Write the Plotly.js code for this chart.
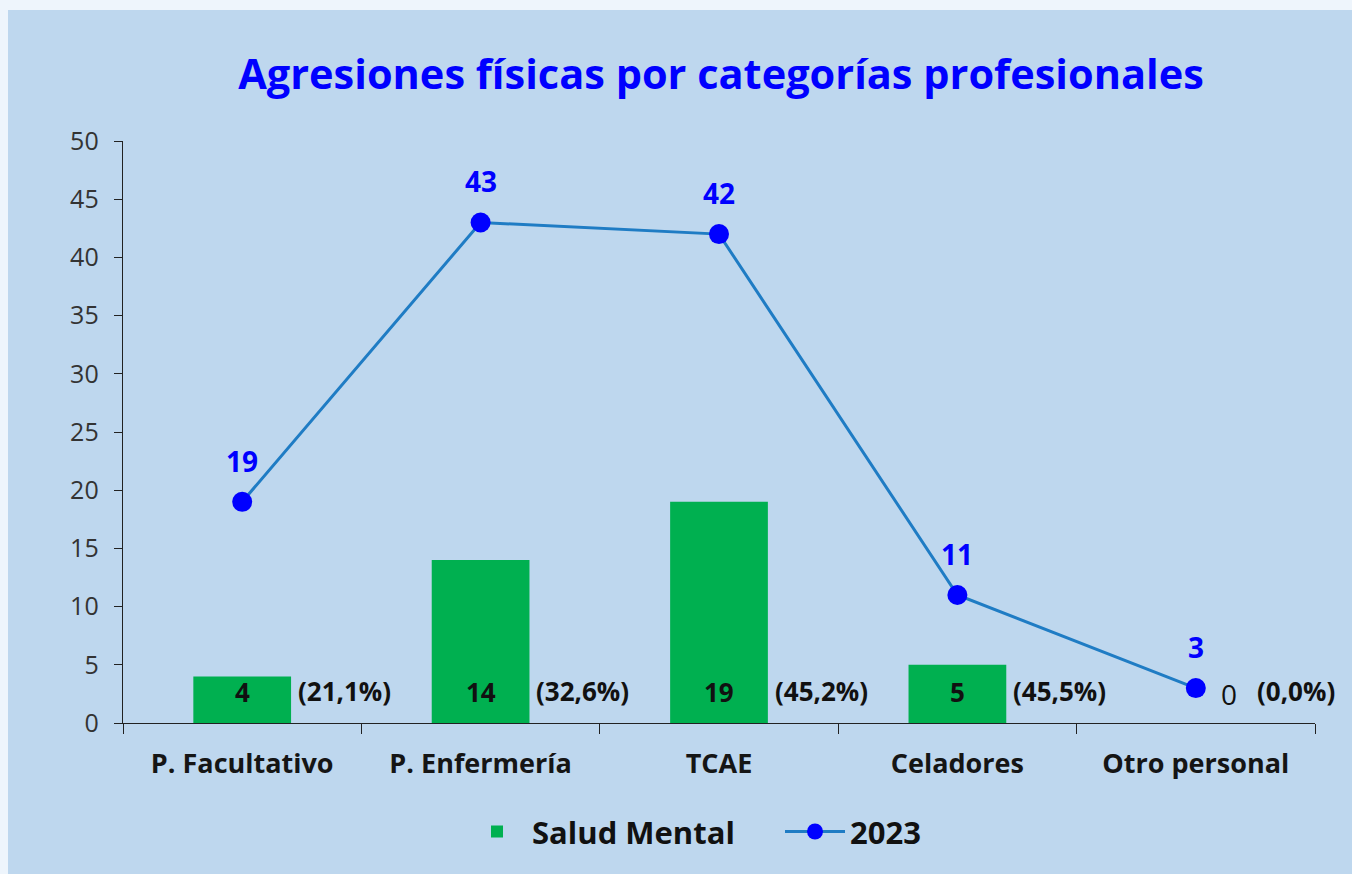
<!DOCTYPE html>
<html>
<head>
<meta charset="utf-8">
<script src="https://cdn.plot.ly/plotly-3.0.1.min.js"></script>
<style>
  html, body { margin: 0; padding: 0; background: #eef5fc; width: 1352px; height: 874px; overflow: hidden; }
  #chart { position: absolute; left: 8px; top: 10px; width: 1344px; height: 864px; }
</style>
</head>
<body>
<div id="chart"></div>
<script>
const categories = ["P. Facultativo", "P. Enfermería", "TCAE", "Celadores", "Otro personal"];
const saludMental = [4, 14, 19, 5, 0];
const total2023 = [19, 43, 42, 11, 3];
const percentLabels = ["(21,1%)", "(32,6%)", "(45,2%)", "(45,5%)", "(0,0%)"];

const FONT = "'Open Sans', sans-serif";

const traces = [
  {
    type: "bar",
    name: "Salud Mental",
    x: categories,
    y: saludMental,
    width: 0.41,
    marker: { color: "#00b050" },
    hoverinfo: "skip"
  },
  {
    type: "scatter",
    mode: "lines+markers",
    name: "2023",
    x: categories,
    y: total2023,
    line: { color: "#1f7cc4", width: 3 },
    marker: { color: "#0000ff", size: 20 },
    hoverinfo: "skip"
  }
];

const annotations = [];
categories.forEach((c, i) => {
  annotations.push({
    x: c, y: total2023[i], xref: "x", yref: "y",
    text: String(total2023[i]), showarrow: false,
    yshift: 41,
    font: { family: FONT, size: 28, color: "#0000ff", weight: "bold" }
  });
  const zero = saludMental[i] === 0;
  annotations.push({
    x: c, y: 0, xref: "x", yref: "y",
    text: String(saludMental[i]), showarrow: false,
    yanchor: "middle",
    yshift: zero ? 29 : 31,
    xshift: zero ? 33 : 0,
    font: { family: FONT, size: zero ? 28 : 26, color: "#111111", weight: zero ? "normal" : "bold" }
  });
  annotations.push({
    x: c, y: 0, xref: "x", yref: "y",
    text: percentLabels[i], showarrow: false,
    yanchor: "middle",
    yshift: 32,
    xshift: zero ? 100 : 102,
    font: { family: FONT, size: 26, color: "#111111", weight: "bold" }
  });
});

const layout = {
  width: 1344, height: 864,
  paper_bgcolor: "#bed7ee",
  plot_bgcolor: "#bed7ee",
  margin: { l: 115, r: 37, t: 131, b: 151 },
  title: {
    text: "Agresiones físicas por categorías profesionales",
    x: 0.5305, xanchor: "center",
    y: 0.925, yanchor: "middle",
    font: { family: FONT, size: 41.5, color: "#0000ff", weight: "bold" }
  },
  showlegend: true,
  legend: {
    orientation: "h",
    x: 0.2844, xanchor: "left",
    y: -0.187, yanchor: "middle",
    font: { family: FONT, size: 31, color: "#111111", weight: "bold" },
    itemwidth: 60,
    entrywidth: 243,
    traceorder: "normal"
  },
  xaxis: {
    type: "category",
    range: [-0.5, 4.5],
    tickson: "boundaries",
    ticks: "outside",
    ticklen: 10,
    tickcolor: "#222",
    showline: true,
    linecolor: "#222",
    linewidth: 1.3,
    showgrid: false,
    zeroline: false,
    tickfont: { family: FONT, size: 27, color: "#151515", weight: "bold" },
    ticklabelstandoff: 16
  },
  yaxis: {
    range: [0, 50],
    dtick: 5,
    ticks: "outside",
    ticklen: 8,
    tickcolor: "#222",
    showline: true,
    linecolor: "#222",
    linewidth: 1.3,
    showgrid: false,
    zeroline: false,
    tickfont: { family: FONT, size: 25, color: "#333333" },
    ticklabelstandoff: 10
  },
  annotations: annotations,
  bargap: 0.59
};

Plotly.newPlot("chart", traces, layout, { displayModeBar: false, staticPlot: true });
</script>
</body>
</html>
